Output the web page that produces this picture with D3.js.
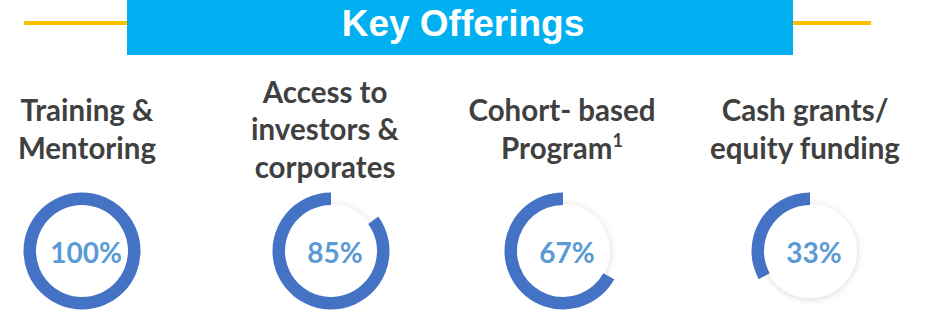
<!DOCTYPE html>
<html>
<head>
<meta charset="utf-8">
<script src="https://cdn.jsdelivr.net/npm/d3@7"></script>
<style>
  html, body { margin: 0; padding: 0; background: #ffffff; }
  svg { display: block; }
</style>
</head>
<body>
<svg id="chart" width="925" height="322"></svg>
<script>
// Offering names (one entry per line), footnote markers and share of programmes offering each
const titleText = "Key Offerings";
const offeringLines = [
  ["Training &", "Mentoring"],
  ["Access to", "investors &", "corporates"],
  ["Cohort- based", "Program"],
  ["Cash grants/", "equity funding"]
];
const footnotes = ["", "", "1", ""];
const shares = [100, 85, 67, 33];

const svg = d3.select("#chart");

const ringBlue = "#4472C4";
const pctBlue = "#5B9BD5";
const labelGrey = "#404040";

// Soft shadow behind each dial face
const defs = svg.append("defs");
const f = defs.append("filter").attr("id", "faceShadow")
  .attr("x", "-30%").attr("y", "-30%").attr("width", "160%").attr("height", "160%");
f.append("feDropShadow").attr("dx", 0).attr("dy", 1).attr("stdDeviation", 3.5)
  .attr("flood-color", "#000").attr("flood-opacity", 0.16);

// Header: yellow rule behind a blue title bar
svg.append("line").attr("x1", 24).attr("x2", 871).attr("y1", 23).attr("y2", 23)
  .attr("stroke", "#FFC000").attr("stroke-width", 4);
svg.append("rect").attr("x", 127).attr("y", 0).attr("width", 666).attr("height", 55)
  .attr("fill", "#00B0F0");
svg.append("text").attr("x", 463).attr("y", 36)
  .attr("text-anchor", "middle")
  .attr("font-family", "Liberation Sans, Arial, sans-serif")
  .attr("font-weight", "bold").attr("font-size", 37)
  .attr("fill", "#ffffff").text(titleText);

// Column positions (dial centres) and per-column label nudges
const x = d3.scaleOrdinal().domain(d3.range(shares.length)).range([82, 331, 563, 810]);
const labelNudge = d3.scaleOrdinal().domain(d3.range(shares.length)).range([5, -6, -1, -5]);
const cy = 251;
const rOuter = 58.5, rInner = 46;
const lineGap = 37.5, labelMid = 140;

const angle = d3.scaleLinear().domain([0, 100]).range([0, -2 * Math.PI]);
const arc = d3.arc().innerRadius(rInner).outerRadius(rOuter);

const cols = svg.selectAll("g.col").data(shares).join("g")
  .attr("class", "col")
  .attr("transform", (d, i) => `translate(${x(i)},0)`);

// Category labels
cols.each(function (d, i) {
  const g = d3.select(this);
  const lines = offeringLines[i];
  const first = labelMid - (lines.length - 1) * lineGap / 2;
  const t = g.append("text")
    .attr("text-anchor", "middle")
    .attr("font-family", "Lato, 'Open Sans', sans-serif")
    .attr("font-weight", "bold").attr("font-size", 29.5)
    .attr("fill", labelGrey);
  lines.forEach((ln, k) => {
    t.append("tspan").attr("x", labelNudge(i))
      .attr("y", first + k * lineGap).text(ln);
    if (k === lines.length - 1 && footnotes[i]) {
      t.append("tspan").attr("dy", -12).attr("font-size", 18).text(footnotes[i]);
    }
  });
});

// Dials
const dial = cols.append("g").attr("transform", `translate(0,${cy})`);
dial.append("circle").attr("r", rInner + 1).attr("fill", "#ffffff")
  .attr("filter", "url(#faceShadow)");
dial.append("path")
  .attr("d", d => arc({ startAngle: 0, endAngle: angle(d) }))
  .attr("fill", ringBlue);
dial.append("text")
  .attr("x", 4).attr("y", 12)
  .attr("text-anchor", "middle")
  .attr("font-family", "Lato, 'Open Sans', sans-serif")
  .attr("font-weight", "bold").attr("font-size", 28)
  .attr("fill", pctBlue)
  .text(d => d + "%");
</script>
</body>
</html>
